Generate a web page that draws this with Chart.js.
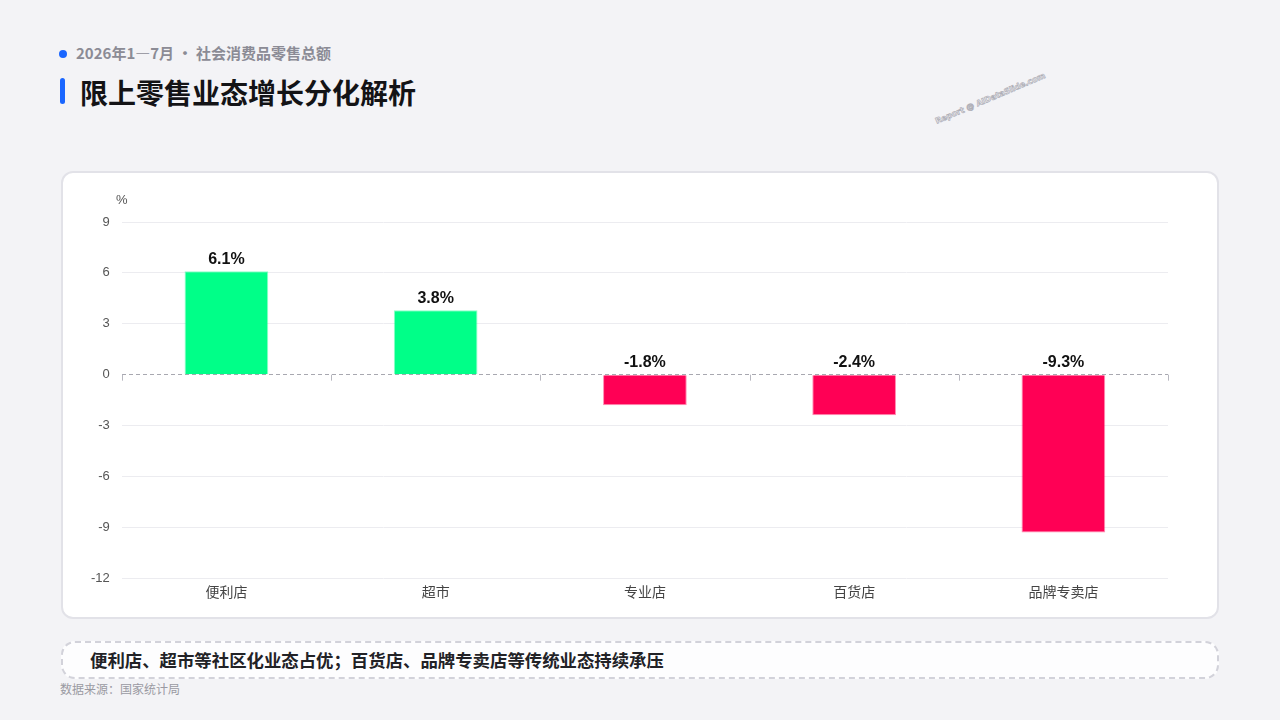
<!DOCTYPE html>
<html lang="zh-CN">
<head>
<meta charset="UTF-8">
<title>限上零售业态增长分化解析</title>
<script src="https://cdn.jsdelivr.net/npm/chart.js@4.4.1/dist/chart.umd.min.js"></script>
<style>
    * { margin: 0; padding: 0; box-sizing: border-box; }
    body {
        width: 1280px;
        height: 720px;
        background: #f3f3f6;
        font-family: "Noto Sans CJK SC", "Noto Sans", sans-serif;
        position: relative;
        overflow: hidden;
    }
    .sub {
        position: absolute;
        left: 59px;
        top: 43px;
        font-size: 15px;
        font-weight: 700;
        color: #8b8b95;
        line-height: 20px;
    }
    .sub::before {
        content: '';
        display: inline-block;
        width: 8px;
        height: 8px;
        border-radius: 50%;
        background: #1a66ff;
        margin-right: 9px;
        vertical-align: 1px;
    }
    .title-bar {
        position: absolute;
        left: 60px;
        top: 78px;
        width: 5px;
        height: 26px;
        border-radius: 3px;
        background: #1a66ff;
    }
    .title {
        position: absolute;
        left: 80px;
        top: 73px;
        font-size: 28px;
        font-weight: 700;
        color: #131316;
        line-height: 38px;
    }
    .mark {
        position: absolute;
        left: 936px;
        top: 116px;
        font-family: "DejaVu Sans", sans-serif;
        font-size: 8px;
        line-height: 12px;
        font-weight: 700;
        color: transparent;
        -webkit-text-stroke: 0.7px #aeaeb6;
        transform: rotate(-23deg);
        transform-origin: left center;
        white-space: nowrap;
    }
    .card {
        position: absolute;
        left: 61px;
        top: 171px;
        width: 1158px;
        height: 448px;
        background: #fff;
        border: 2px solid #e2e2e8;
        border-radius: 12px;
    }
    .card canvas { position: absolute; left: 0; top: 0; }
    .note {
        position: absolute;
        left: 61px;
        top: 641px;
        width: 1158px;
        height: 38px;
        border: 2px dashed #d2d2da;
        border-radius: 14px;
        background: #fdfdfe;
        font-size: 17.4px;
        font-weight: 700;
        color: #222226;
        line-height: 34px;
        padding-left: 27px;
    }
    .source {
        position: absolute;
        left: 60px;
        top: 680px;
        font-size: 12px;
        color: #9a9aa2;
        line-height: 17px;
    }
</style>
</head>
<body>
<div class="sub">2026年1—7月 • 社会消费品零售总额</div>
<div class="title-bar"></div>
<div class="title">限上零售业态增长分化解析</div>
<div class="mark">Report @ AIDataSlide.com</div>

<div class="card">
    <canvas id="chart" width="1154" height="444"></canvas>
</div>

<div class="note">便利店、超市等社区化业态占优；百货店、品牌专卖店等传统业态持续承压</div>
<div class="source">数据来源：国家统计局</div>

<script>
// 数据
const categories = ['便利店', '超市', '专业店', '百货店', '品牌专卖店'];
const growth = [6.1, 3.8, -1.8, -2.4, -9.3];
const yTicks = [9, 6, 3, 0, -3, -6, -9, -12];
const unitLabel = '%';

const UP = '#00ff88';
const DOWN = '#ff0055';

// 数值标签 + 零线刻度 + 单位
const extras = {
    id: 'extras',
    afterDatasetsDraw(chart) {
        const ctx = chart.ctx;
        const x = chart.scales.x;
        const y = chart.scales.y;
        const zero = y.getPixelForValue(0);
        const area = chart.chartArea;

        // 零线上的分类刻度
        ctx.save();
        ctx.strokeStyle = '#b8b8c0';
        ctx.lineWidth = 1;
        const step = (x.right - x.left) / categories.length;
        for (let i = 0; i <= categories.length; i++) {
            const px = Math.round(x.left + i * step) + 0.5;
            ctx.beginPath();
            ctx.moveTo(px, zero);
            ctx.lineTo(px, zero + 6);
            ctx.stroke();
        }
        ctx.restore();

        // 数值标签
        ctx.save();
        ctx.font = 'bold 16px "Liberation Sans", Arial, sans-serif';
        ctx.fillStyle = '#111';
        ctx.textAlign = 'center';
        ctx.textBaseline = 'bottom';
        growth.forEach((v, i) => {
            const px = x.getPixelForValue(i);
            const py = y.getPixelForValue(Math.max(v, 0));
            ctx.fillText(v.toFixed(1) + '%', px, py - 4);
        });
        ctx.restore();

        // 单位
        ctx.save();
        ctx.font = '13px "Liberation Sans", Arial, sans-serif';
        ctx.fillStyle = '#555';
        ctx.textAlign = 'center';
        ctx.textBaseline = 'middle';
        ctx.fillText(unitLabel, area.left, area.top - 22);
        ctx.restore();
    }
};

new Chart(document.getElementById('chart'), {
    type: 'bar',
    data: {
        labels: categories,
        datasets: [{
            data: growth,
            backgroundColor: growth.map(v => v >= 0 ? UP : DOWN),
            borderColor: growth.map(v => v >= 0 ? 'rgba(0,255,136,0.45)' : 'rgba(255,0,85,0.45)'),
            borderWidth: 1,
            barPercentage: 0.8,
            categoryPercentage: 0.5
        }]
    },
    options: {
        responsive: false,
        animation: false,
        layout: {
            padding: { left: 16, right: 49, top: 49, bottom: 12 }
        },
        plugins: {
            legend: { display: false },
            tooltip: { enabled: false }
        },
        scales: {
            x: {
                grid: { display: false, drawTicks: false },
                border: { display: false },
                ticks: {
                    color: '#444',
                    font: { size: 14, family: '"Noto Sans CJK SC", sans-serif' },
                    padding: 5
                }
            },
            y: {
                min: -12,
                max: 9,
                afterBuildTicks(axis) {
                    axis.ticks = yTicks.map(v => ({ value: v }));
                },
                border: { display: false, dash: ctx => ctx.tick && ctx.tick.value === 0 ? [4, 3] : [] },
                grid: {
                    color: ctx => ctx.tick && ctx.tick.value === 0 ? '#a8a8b0' : '#ececf0',
                    lineWidth: 1,
                    drawTicks: false
                },
                ticks: {
                    color: '#555',
                    font: { size: 13, family: '"Liberation Sans", Arial, sans-serif' },
                    padding: 12
                }
            }
        }
    },
    plugins: [extras]
});
</script>
</body>
</html>
